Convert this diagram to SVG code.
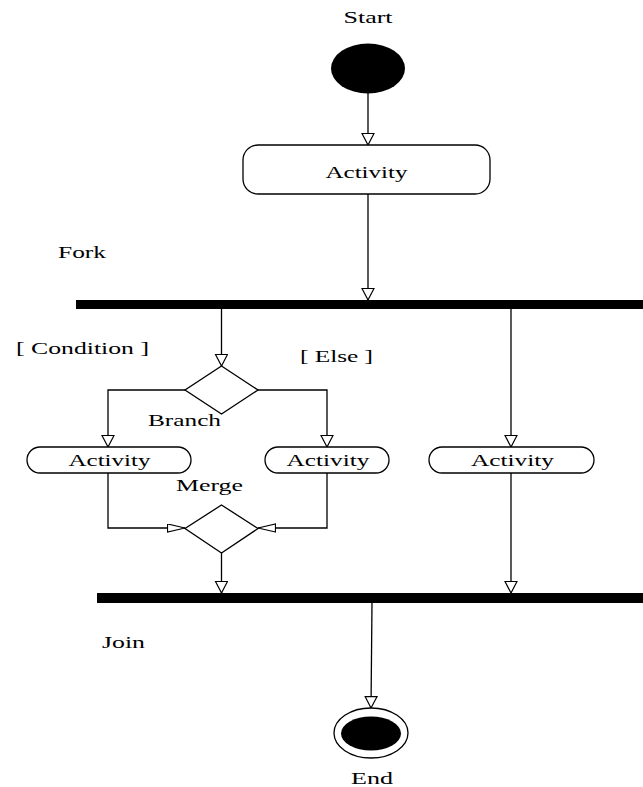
<svg xmlns="http://www.w3.org/2000/svg" width="643" height="787" viewBox="0 0 643 787">
<style>
  text { font-family: "Liberation Serif", "Times New Roman", serif; font-size: 17px; fill: #000; }
  .act { fill: #fff; stroke: #000; stroke-width: 1.3; }
  .dia { fill: #fff; stroke: #000; stroke-width: 1.3; }
  .bar { fill: #000; }
  .con { fill: none; stroke: #000; stroke-width: 1.3; }
</style>
<defs>
  <marker id="arrV" markerWidth="14" markerHeight="14" refX="12" refY="6.5" orient="auto" markerUnits="userSpaceOnUse">
    <polygon points="0.5,0.5 12,6.5 0.5,12.5" fill="#fff" stroke="#000" stroke-width="1.2"/>
  </marker>
  <marker id="arrH" markerWidth="20" markerHeight="10" refX="18" refY="4.5" orient="auto" markerUnits="userSpaceOnUse">
    <polygon points="0.5,0.5 18,4.5 0.5,8.5" fill="#fff" stroke="#000" stroke-width="1.2"/>
  </marker>
</defs>
<rect width="643" height="787" fill="#fff"/>

<g id="connectors">
  <line class="con" x1="368" y1="93" x2="368" y2="145" marker-end="url(#arrV)"/>
  <line class="con" x1="368" y1="194" x2="368" y2="300" marker-end="url(#arrV)"/>
  <line class="con" x1="221.5" y1="309" x2="221.5" y2="366" marker-end="url(#arrV)"/>
  <polyline class="con" points="185,390 108,390 108,447" marker-end="url(#arrV)"/>
  <polyline class="con" points="258,390 327,390 327,447" marker-end="url(#arrV)"/>
  <polyline class="con" points="108,473 108,528 185,528" marker-end="url(#arrH)"/>
  <polyline class="con" points="327,473 327,528 258,528" marker-end="url(#arrH)"/>
  <line class="con" x1="221.5" y1="553" x2="221.5" y2="593" marker-end="url(#arrV)"/>
  <line class="con" x1="511" y1="309" x2="511" y2="447" marker-end="url(#arrV)"/>
  <line class="con" x1="511" y1="473" x2="511" y2="593" marker-end="url(#arrV)"/>
  <line class="con" x1="372" y1="603" x2="371" y2="708" marker-end="url(#arrV)"/>
</g>

<g id="start">
  <ellipse cx="368" cy="68.5" rx="37" ry="25" fill="#000"/>
  <text x="368" y="23" text-anchor="middle" textLength="49" lengthAdjust="spacingAndGlyphs">Start</text>
</g>

<g id="activity-main">
  <rect class="act" x="243" y="145" width="247" height="49" rx="15" ry="15"/>
  <text x="366.5" y="178" text-anchor="middle" textLength="82" lengthAdjust="spacingAndGlyphs">Activity</text>
</g>

<g id="fork">
  <rect class="bar" x="76" y="300" width="567" height="9"/>
  <text x="58" y="258" textLength="48" lengthAdjust="spacingAndGlyphs">Fork</text>
</g>

<g id="branch">
  <polygon class="dia" points="221.5,366 258,390 221.5,414 185,390"/>
  <text x="148" y="426" textLength="73" lengthAdjust="spacingAndGlyphs">Branch</text>
</g>

<g id="guard-condition">
  <text x="16" y="354" textLength="133" lengthAdjust="spacingAndGlyphs">[ Condition ]</text>
</g>
<g id="guard-else">
  <text x="300" y="362" textLength="73" lengthAdjust="spacingAndGlyphs">[ Else ]</text>
</g>

<g id="activity-left">
  <rect class="act" x="27" y="447" width="164" height="26" rx="13" ry="13"/>
  <text x="68.5" y="466" textLength="82" lengthAdjust="spacingAndGlyphs">Activity</text>
</g>

<g id="activity-middle">
  <rect class="act" x="265" y="447" width="124" height="26" rx="13" ry="13"/>
  <text x="286.5" y="466" textLength="83" lengthAdjust="spacingAndGlyphs">Activity</text>
</g>

<g id="activity-right">
  <rect class="act" x="429" y="447" width="165" height="26" rx="13" ry="13"/>
  <text x="471" y="466" textLength="83" lengthAdjust="spacingAndGlyphs">Activity</text>
</g>

<g id="merge">
  <polygon class="dia" points="221.5,505 258,528.5 221.5,553 185,528.5"/>
  <text x="176" y="491" textLength="67" lengthAdjust="spacingAndGlyphs">Merge</text>
</g>

<g id="join">
  <rect class="bar" x="97" y="593" width="546" height="10"/>
  <text x="102" y="648" textLength="43" lengthAdjust="spacingAndGlyphs">Join</text>
</g>

<g id="end">
  <ellipse cx="371" cy="733" rx="37" ry="25" fill="#fff" stroke="#000" stroke-width="1.3"/>
  <ellipse cx="371" cy="733.5" rx="30" ry="17" fill="#000"/>
  <text x="372" y="784" text-anchor="middle" textLength="42" lengthAdjust="spacingAndGlyphs">End</text>
</g>
</svg>
